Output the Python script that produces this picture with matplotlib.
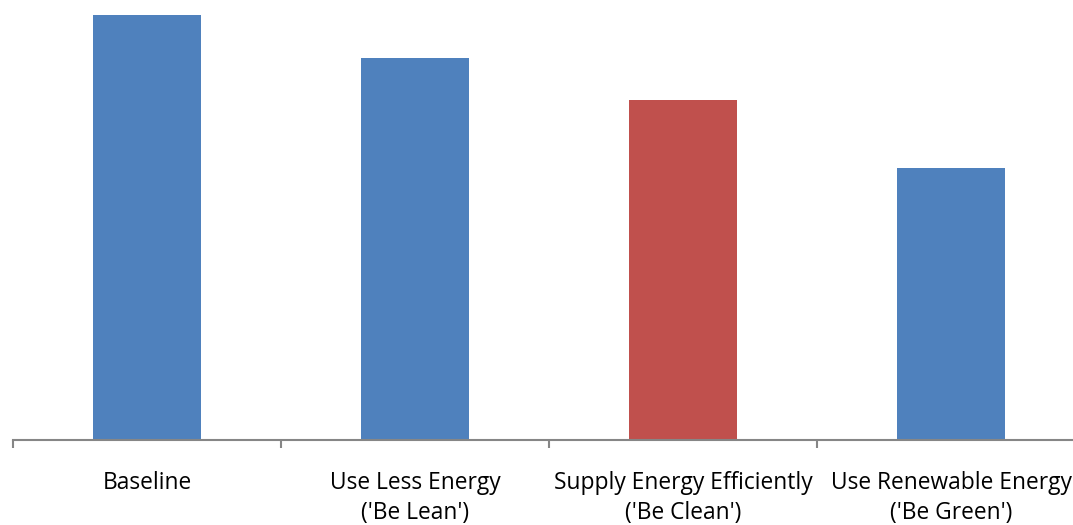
import matplotlib.pyplot as plt
import numpy as np

# energy hierarchy steps, baseline normalised to 100
categories = ["Baseline", "Use Less Energy\n('Be Lean')",
              "Supply Energy Efficiently\n('Be Clean')",
              "Use Renewable Energy\n('Be Green')"]
values = [100, 89.9, 80.0, 64.0]
colors = ["#4F81BD", "#4F81BD", "#C0504D", "#4F81BD"]

fig = plt.figure(figsize=(10.73, 5.25), dpi=100)
# the axis runs off the right edge of the figure
ax = fig.add_axes([13 / 1073, 1 - 440 / 525, 1072 / 1073, 425 / 525])

x = np.arange(len(categories))
ax.bar(x, values, width=0.4, color=colors, zorder=2)

ax.set_xlim(-0.5, len(categories) - 0.5)
ax.set_ylim(0, 100)

for side in ["top", "right", "left"]:
    ax.spines[side].set_visible(False)
ax.spines["bottom"].set_color("#868686")
ax.spines["bottom"].set_linewidth(1.5)
ax.set_yticks([])

ax.set_xticks(x)
ax.set_xticklabels(categories, fontsize=16.4, family="Open Sans",
                   linespacing=1.38, color="black")
ax.tick_params(axis="x", which="major", length=0, pad=22)
ax.set_xticks(np.arange(len(categories) + 1) - 0.5, minor=True)
ax.tick_params(axis="x", which="minor", length=6, width=1.5, color="#868686")

fig.savefig("out.png", dpi=100)
